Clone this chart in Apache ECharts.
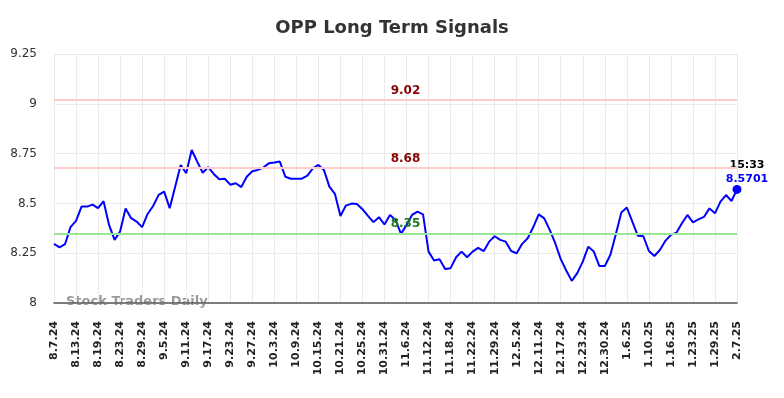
<!DOCTYPE html>
<html>

<head>
    <meta http-equiv="Content-type" content="text/html; charset=utf-8" />
    <title>OPP Long Term Signals</title>
    <script src="https://cdn.jsdelivr.net/npm/echarts@6/dist/echarts.min.js"></script>
    <style>
    body {
        margin: 0;
        background: #fff;
    }
    </style>
</head>

<body>
    <div id="main" style="width: 784px;height:398px;"></div>
    <script type="text/javascript">
        // dates (category axis), every 4th one is labelled
        var dates = [
            '8.7.24', '8.8.24', '8.9.24', '8.12.24', '8.13.24', '8.14.24', '8.15.24', '8.16.24',
            '8.19.24', '8.20.24', '8.21.24', '8.22.24', '8.23.24', '8.26.24', '8.27.24', '8.28.24',
            '8.29.24', '8.30.24', '9.3.24', '9.4.24', '9.5.24', '9.6.24', '9.9.24', '9.10.24',
            '9.11.24', '9.12.24', '9.13.24', '9.16.24', '9.17.24', '9.18.24', '9.19.24', '9.20.24',
            '9.23.24', '9.24.24', '9.25.24', '9.26.24', '9.27.24', '9.30.24', '10.1.24', '10.2.24',
            '10.3.24', '10.4.24', '10.7.24', '10.8.24', '10.9.24', '10.10.24', '10.11.24', '10.14.24',
            '10.15.24', '10.16.24', '10.17.24', '10.18.24', '10.21.24', '10.22.24', '10.23.24', '10.24.24',
            '10.25.24', '10.28.24', '10.29.24', '10.30.24', '10.31.24', '11.1.24', '11.4.24', '11.5.24',
            '11.6.24', '11.7.24', '11.8.24', '11.11.24', '11.12.24', '11.13.24', '11.14.24', '11.15.24',
            '11.18.24', '11.19.24', '11.20.24', '11.21.24', '11.22.24', '11.25.24', '11.26.24', '11.27.24',
            '11.29.24', '12.2.24', '12.3.24', '12.4.24', '12.5.24', '12.6.24', '12.9.24', '12.10.24',
            '12.11.24', '12.12.24', '12.13.24', '12.16.24', '12.17.24', '12.18.24', '12.19.24', '12.20.24',
            '12.23.24', '12.24.24', '12.26.24', '12.27.24', '12.30.24', '12.31.24', '1.2.25', '1.3.25',
            '1.6.25', '1.7.25', '1.8.25', '1.9.25', '1.10.25', '1.13.25', '1.14.25', '1.15.25',
            '1.16.25', '1.17.25', '1.21.25', '1.22.25', '1.23.25', '1.24.25', '1.27.25', '1.28.25',
            '1.29.25', '1.31.25', '2.3.25', '2.5.25', '2.7.25'
        ];
        // long term signal values
        var values = [
            8.297, 8.279, 8.295, 8.381, 8.412, 8.484, 8.484, 8.494, 8.476, 8.511,
            8.392, 8.317, 8.359, 8.474, 8.426, 8.409, 8.381, 8.447, 8.487, 8.543,
            8.559, 8.476, 8.584, 8.693, 8.651, 8.768, 8.710, 8.654, 8.682, 8.648,
            8.621, 8.624, 8.594, 8.601, 8.582, 8.634, 8.661, 8.668, 8.680, 8.701,
            8.705, 8.710, 8.634, 8.624, 8.624, 8.624, 8.639, 8.676, 8.693, 8.668,
            8.584, 8.548, 8.437, 8.489, 8.499, 8.497, 8.471, 8.437, 8.406, 8.431,
            8.394, 8.442, 8.417, 8.347, 8.392, 8.442, 8.459, 8.445, 8.258, 8.213,
            8.220, 8.171, 8.175, 8.230, 8.258, 8.230, 8.258, 8.277, 8.260, 8.308,
            8.335, 8.317, 8.308, 8.261, 8.250, 8.297, 8.325, 8.380, 8.445, 8.425,
            8.367, 8.300, 8.220, 8.163, 8.111, 8.150, 8.208, 8.283, 8.258, 8.186,
            8.186, 8.241, 8.345, 8.454, 8.479, 8.408, 8.337, 8.335, 8.261, 8.236,
            8.266, 8.312, 8.342, 8.353, 8.400, 8.442, 8.405, 8.420, 8.432, 8.475,
            8.450, 8.509, 8.542, 8.512, 8.5701
        ];
        // signal levels
        var resistLevels = [9.02, 8.68];
        var supportLevels = [8.35];
        var lastTime = '15:33';
        var yTicks = [8, 8.25, 8.5, 8.75, 9, 9.25];

        var font = 'DejaVu Sans';

        var lineData = values.map(function (v, i) {
            if (i === values.length - 1) {
                return {
                    value: v,
                    symbol: 'circle',
                    symbolSize: 9,
                    label: {
                        show: true,
                        position: 'top',
                        offset: [10, 6],
                        formatter: '{t|' + lastTime + '}\n{v|' + v.toFixed(4) + '}',
                        rich: {
                            t: { color: '#000', fontWeight: 'bold', fontSize: 11, fontFamily: font, lineHeight: 14 },
                            v: { color: '#0000ff', fontWeight: 'bold', fontSize: 11, fontFamily: font, lineHeight: 14 }
                        }
                    }
                };
            }
            return v;
        });

        var marks = [];
        resistLevels.forEach(function (lv) {
            marks.push({
                yAxis: lv,
                lineStyle: { color: '#ffcccc', width: 2, type: 'solid' },
                label: { color: '#8b0000' }
            });
        });
        supportLevels.forEach(function (lv) {
            marks.push({
                yAxis: lv,
                lineStyle: { color: '#99e699', width: 2, type: 'solid' },
                label: { color: '#1a7a1a' }
            });
        });

        var myChart = echarts.init(document.getElementById('main'));
        myChart.setOption({
            animation: false,
            title: {
                text: 'OPP Long Term Signals',
                left: 'center',
                top: 14,
                textStyle: { fontFamily: font, fontSize: 18, fontWeight: 'bold', color: '#333' }
            },
            graphic: [{
                type: 'text',
                left: 66,
                top: 295,
                style: {
                    text: 'Stock Traders Daily',
                    fill: 'rgba(120,120,120,0.75)',
                    font: 'bold 13px "DejaVu Sans"'
                }
            }],
            grid: { left: 54, right: 47, top: 54, bottom: 95 },
            xAxis: {
                type: 'category',
                data: dates,
                boundaryGap: false,
                axisLine: { lineStyle: { color: '#555', width: 1.5 } },
                axisTick: { show: false },
                axisLabel: {
                    interval: 3,
                    rotate: 90,
                    margin: 18,
                    fontFamily: font,
                    fontSize: 11,
                    fontWeight: 'bold',
                    color: '#222'
                },
                splitLine: { show: true, interval: 3, lineStyle: { color: '#ebebeb', width: 1 } }
            },
            yAxis: {
                type: 'value',
                min: yTicks[0],
                max: yTicks[yTicks.length - 1],
                interval: 0.25,
                axisLine: { show: false },
                axisTick: { show: false },
                axisLabel: { margin: 17, fontFamily: font, fontSize: 12, color: '#333' },
                splitLine: { lineStyle: { color: '#ebebeb', width: 1 } }
            },
            series: [{
                type: 'line',
                data: lineData,
                showSymbol: true,
                symbol: 'none',
                itemStyle: { color: '#0000ff' },
                lineStyle: { color: '#0000ff', width: 2 },
                markLine: {
                    silent: true,
                    symbol: 'none',
                    label: {
                        position: 'insideMiddleTop',
                        distance: 3,
                        offset: [10, 0],
                        fontFamily: font,
                        fontSize: 12,
                        fontWeight: 'bold',
                        formatter: function (p) { return p.value.toFixed(2); }
                    },
                    data: marks
                }
            }]
        });
    </script>
</body>

</html>
